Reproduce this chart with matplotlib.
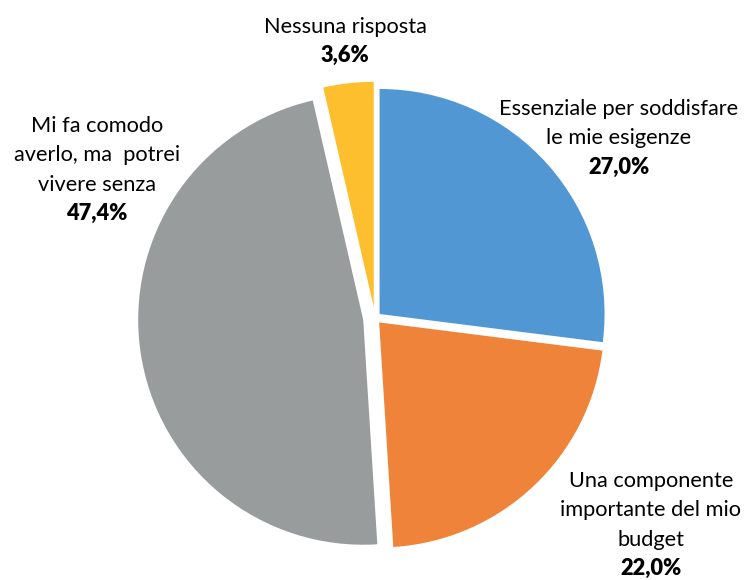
import matplotlib
matplotlib.use("Agg")
import matplotlib.pyplot as plt

categories = ["Essenziale per soddisfare\nle mie esigenze",
              "Una componente\nimportante del mio\nbudget",
              "Mi fa comodo\naverlo, ma  potrei\nvivere senza",
              "Nessuna risposta"]
values = [27.0, 22.0, 47.4, 3.6]
colors = ["#5097D3", "#F0833A", "#999C9C", "#FDBF2E"]
explode = [0.027, 0.027, 0.053, 0.05]

# label anchor (pixel x center, baseline of first line)
label_pos = [(619, 115), (651, 487), (97, 132), (345, 33)]
line_step = 29.3

W, H = 750, 580
CX, CY, R = 375, 318, 225

plt.rcParams['font.family'] = ['Lato', 'DejaVu Sans']

fig = plt.figure(figsize=(W / 100, H / 100), dpi=100)
ax = fig.add_axes([0, 0, 1, 1])
ax.pie(values, colors=colors, explode=explode, startangle=90,
       counterclock=False, radius=1.0,
       wedgeprops=dict(linewidth=0))
ax.set_xlim(-CX / R, (W - CX) / R)
ax.set_ylim(-(H - CY) / R, CY / R)
ax.set_aspect('auto')
ax.axis('off')


def to_data(px, py):
    return (px - CX) / R, (CY - py) / R


for cat, val, (px, py) in zip(categories, values, label_pos):
    lines = cat.split("\n")
    for i, ln in enumerate(lines):
        x, y = to_data(px, py + i * line_step)
        ax.text(x, y, ln, ha='center', va='baseline', fontsize=15.7, color='black')
    x, y = to_data(px, py + len(lines) * line_step)
    ax.text(x, y, f"{val:.1f}%".replace('.', ','), ha='center', va='baseline',
            fontsize=15.7, fontweight='heavy', color='black')

fig.savefig("out.png", dpi=100)
